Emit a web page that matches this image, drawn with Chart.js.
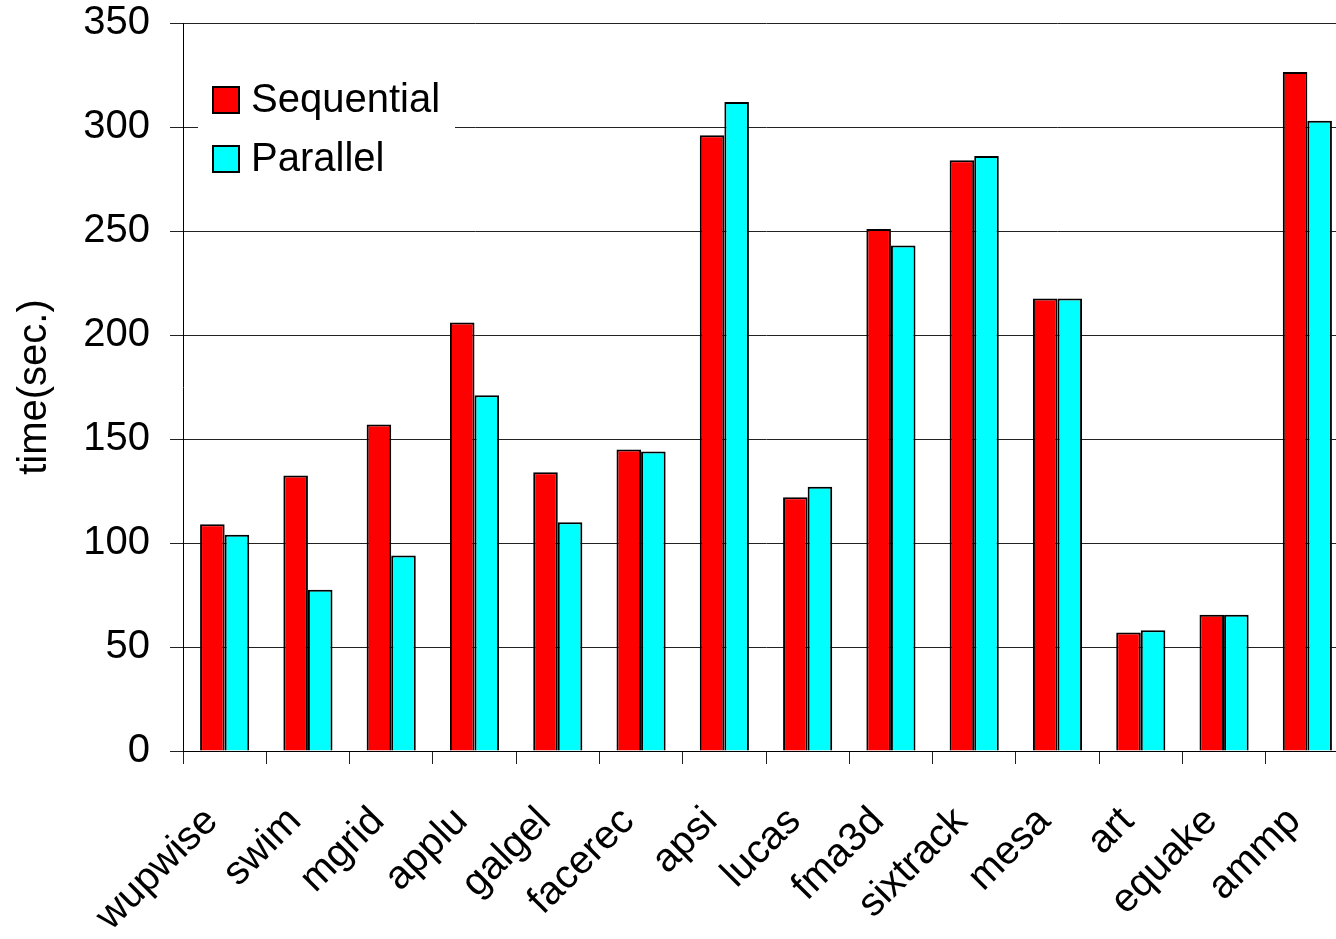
<!DOCTYPE html>
<html>
<head>
<meta charset="utf-8">
<script src="https://cdn.jsdelivr.net/npm/chart.js@4.4.0/dist/chart.umd.min.js"></script>
<style>
  html, body { margin: 0; padding: 0; background: #fff; overflow: hidden; }
  #wrap { position: relative; width: 1349px; height: 939px; }
</style>
</head>
<body>
<div id="wrap"><canvas id="c" width="1349" height="939"></canvas></div>
<script>
// SPEC benchmarks, run time in seconds
const benchmarks = ['wupwise', 'swim', 'mgrid', 'applu', 'galgel', 'facerec', 'apsi',
                    'lucas', 'fma3d', 'sixtrack', 'mesa', 'art', 'equake', 'ammp'];
const sequentialTimes = [109, 132.5, 157, 206, 134, 145, 296, 122, 251, 284, 217.5, 57, 65.5, 326.5];
const parallelTimes   = [104,  77.5,  94, 171, 110, 144, 312, 127, 243, 286, 217.5, 58, 65.5, 303];
const yTicks = [0, 50, 100, 150, 200, 250, 300, 350];

const FONT = '"Liberation Sans", Arial, Helvetica, sans-serif';

// Boxed legend drawn inside the plot area, top-left
const boxLegend = {
  id: 'boxLegend',
  afterDraw(chart) {
    const ctx = chart.ctx;
    const area = chart.chartArea;
    const x0 = area.left + 15, y0 = area.top + 45;
    ctx.save();
    ctx.fillStyle = '#fff';
    ctx.fillRect(x0, y0, 257, 128);
    ctx.font = '40px ' + FONT;
    ctx.textBaseline = 'middle';
    chart.data.datasets.forEach((ds, i) => {
      const sy = y0 + 19 + i * 59;
      ctx.fillStyle = ds.backgroundColor;
      ctx.fillRect(x0 + 15, sy, 26, 26);
      ctx.lineWidth = 2;
      ctx.strokeStyle = '#000';
      ctx.strokeRect(x0 + 15, sy, 26, 26);
      ctx.fillStyle = '#000';
      ctx.fillText(ds.label, x0 + 53, sy + 14);
    });
    ctx.restore();
  }
};

new Chart(document.getElementById('c'), {
  type: 'bar',
  data: {
    labels: benchmarks,
    datasets: [
      { label: 'Sequential', data: sequentialTimes, backgroundColor: '#ff0000',
        borderColor: '#000', borderWidth: 2 },
      { label: 'Parallel', data: parallelTimes, backgroundColor: '#00ffff',
        borderColor: '#000', borderWidth: 2 }
    ]
  },
  options: {
    responsive: false,
    animation: false,
    layout: { padding: { top: 23, right: 0, left: 0, bottom: 0 } },
    datasets: { bar: { categoryPercentage: 0.59, barPercentage: 1.0 } },
    plugins: {
      legend: { display: false },
      tooltip: { enabled: false }
    },
    scales: {
      x: {
        grid: { offset: true, drawOnChartArea: false, drawTicks: true, tickLength: 13,
                color: '#222', lineWidth: 1 },
        border: { color: '#000', width: 1 },
        ticks: { color: '#000', font: { family: FONT, size: 40 },
                 minRotation: 45, maxRotation: 45, autoSkip: false, padding: 34, labelOffset: -13 },
        afterFit(s) { s.height = 188; s.paddingLeft = 0; s.paddingRight = 0; }
      },
      y: {
        min: 0, max: 350,
        afterBuildTicks(s) { s.ticks = yTicks.map(v => ({ value: v })); },
        grid: { color: '#222', lineWidth: 1, tickLength: 13 },
        border: { color: '#000', width: 1 },
        ticks: { color: '#000', font: { family: FONT, size: 40, lineHeight: 1 }, padding: 20 },
        title: { display: true, text: 'time(sec.)', color: '#000',
                 font: { family: FONT, size: 40, lineHeight: 1.2 }, padding: { top: 11, bottom: 0 } },
        afterFit(s) { s.width = 183; s.paddingTop = 0; s.paddingBottom = 0; }
      }
    }
  },
  plugins: [boxLegend]
});
</script>
</body>
</html>
